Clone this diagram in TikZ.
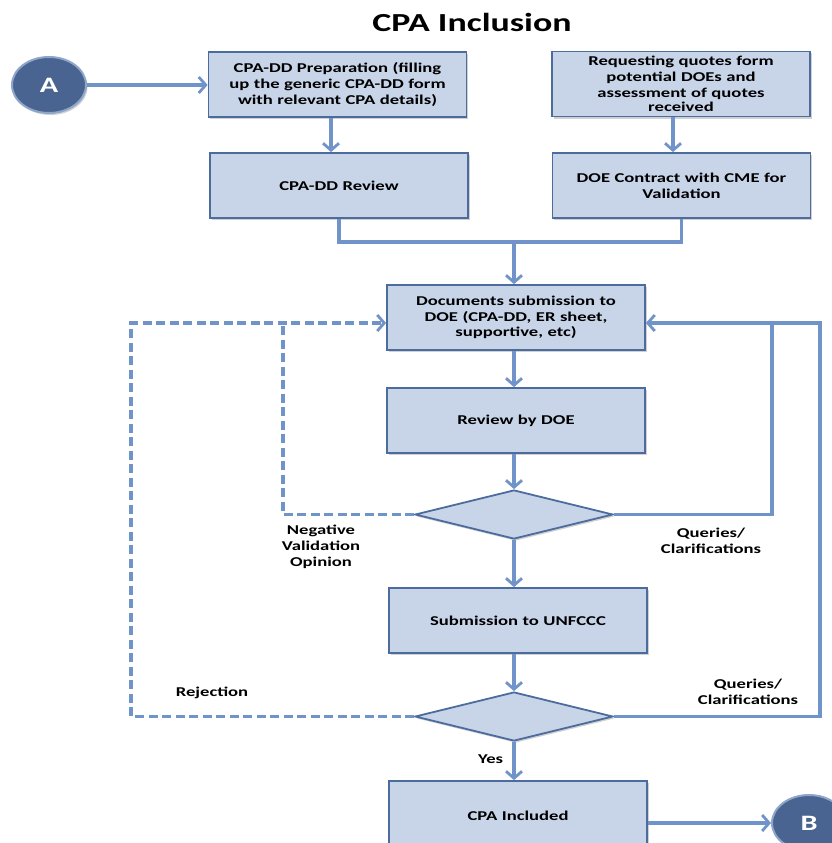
\documentclass[tikz,border=0pt]{standalone}
\usepackage{fontspec}
\setmainfont{Carlito}[FakeStretch=1.38]
\usetikzlibrary{shapes.geometric,arrows.meta,calc,shadows}
\definecolor{boxfill}{HTML}{C8D5E9}
\definecolor{boxline}{HTML}{4D6C9E}
\definecolor{arrcol}{HTML}{7094C9}
\definecolor{circfill}{HTML}{4A6491}
\definecolor{circline}{HTML}{8FA6CB}
\tikzset{
  boxshadow/.style={general shadow={fill=black, opacity=0.18, shadow xshift=1.5pt, shadow yshift=-2pt}},
  flowbox/.style={draw=boxline, fill=boxfill, line width=1.8pt, minimum width=258pt, minimum height=65pt,
    inner sep=2pt, align=center, font=\fontsize{13.5}{15.8}\selectfont\bfseries, text width=254pt, boxshadow},
  decision/.style={draw=boxline, fill=boxfill, line width=1.8pt, diamond, minimum width=198pt, minimum height=49pt, inner sep=0pt, boxshadow},
  conn/.style={draw=arrcol, line width=3.2pt},
  arr/.style={conn, -{Straight Barb[length=7pt,width=16pt,line width=2.8pt]}},
  dashline/.style={dash pattern=on 9pt off 4.5pt},
  lbl/.style={font=\fontsize{13.5}{15.8}\selectfont\bfseries, align=center},
  connector/.style={ellipse, draw=circline, line width=2pt, fill=circfill, minimum width=74pt, minimum height=56pt, inner sep=0pt, text=white, font=\fontsize{22}{24}\selectfont\bfseries, boxshadow},
}
\begin{document}
\begin{tikzpicture}[x=1pt,y=-1pt]
\useasboundingbox (0,0) rectangle (832,843);
\fill[white] (0,0) rectangle (832,843);
\node[font=\fontsize{26}{28}\selectfont\bfseries] (title) at (472,22) {CPA Inclusion};
\node[connector] (A) at (49,85) {A};
\node[flowbox] (b1) at (337.5,84.5) {CPA-DD Preparation (filling\\up the generic CPA-DD form\\with relevant CPA details)};
\node[flowbox] (b2) at (681,84) {Requesting quotes form\\potential DOEs and\\assessment of quotes\\[-1.5pt]received};
\node[flowbox] (b3) at (339,185.5) {CPA-DD Review};
\node[flowbox] (b4) at (681.5,185.5) {DOE Contract with CME for\\Validation};
\node[flowbox] (b5) at (516,317.5) {Documents submission to\\DOE (CPA-DD, ER sheet,\\supportive, etc)};
\node[flowbox] (b6) at (516,420.5) {Review by DOE};
\node[decision] (d1) at (514,514.5) {};
\node[flowbox] (b7) at (518,620.5) {Submission to UNFCCC};
\node[decision] (d2) at (514,716.5) {};
\node[flowbox, minimum height=70pt] (b8) at (518,816) {CPA Included};
\node[connector] (B) at (809,823) {B};
\coordinate (m) at (514,242);
\coordinate (L1) at (283,323);
\coordinate (L2) at (131,323);
\coordinate (R1) at (772,323);
\coordinate (R2) at (820,323);
% connectors
\draw[arr] (A.east) -- (A.east -| b1.west);
\draw[arr] ([xshift=-6.5pt]b1.south) -- ([xshift=-6.5pt]b1.south |- b3.north);
\draw[arr] ([xshift=-8pt]b2.south) -- ([xshift=-8pt]b2.south |- b4.north);
\draw[conn] (b3.south) |- (m);
\draw[conn] (b4.south) |- (m);
\draw[arr] (m) -- (m |- b5.north);
\draw[arr] (b5.south -| m) -- (m |- b6.north);
\draw[arr] (b6.south -| m) -- (d1.north);
\draw[arr] (d1.south) -- (d1.south |- b7.north);
\draw[arr] (b7.south -| d2) -- (d2.north);
\draw[arr] (d2.south) -- node[lbl, left=6pt, pos=0.45] {Yes} (d2.south |- b8.north);
\draw[conn, dashline] (d1.west) -| (L1);
\draw[arr, dashline] (d2.west) -| (L2) -- (L2 -| b5.west);
\draw[conn] (d1.east) -| (R1);
\draw[arr] (d2.east) -| (R2) -- (R2 -| b5.east);
\draw[arr] (B.west -| b8.east) -- (B.west);
% labels
\node[lbl] (neg) at (321,547) {Negative\\Validation\\Opinion};
\node[lbl] (q1) at (711,541) {Queries/\\Clarifications};
\node[lbl] (rej) at (212,693) {Rejection};
\node[lbl] (q2) at (748,692) {Queries/\\Clarifications};
\end{tikzpicture}
\end{document}
